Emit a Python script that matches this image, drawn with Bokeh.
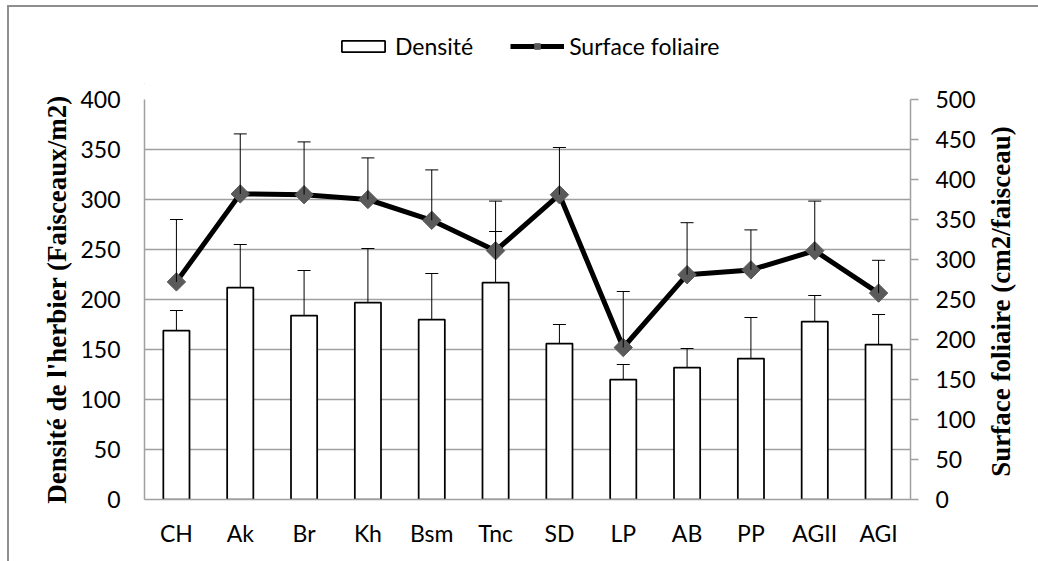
import math

from bokeh.embed import file_html
from bokeh.layouts import column, row
from bokeh.models import (ColumnDataSource, FactorRange, FixedTicker, Label,
                          Legend, LegendItem, LinearAxis, Range1d, TeeHead,
                          Whisker)
from bokeh.plotting import figure
from bokeh.resources import INLINE

# Sites
categories = ["CH", "Ak", "Br", "Kh", "Bsm", "Tnc", "SD", "LP", "AB", "PP", "AGII", "AGI"]

# Densité de l'herbier (faisceaux/m2) and its standard deviation
densite = [169, 212, 184, 197, 180, 217, 156, 120, 132, 141, 178, 155]
densite_err = [20, 43, 45, 54, 46, 51, 19, 15, 19, 41, 26, 30]

# Surface foliaire (cm2/faisceau) and its standard deviation
surface = [272, 382, 381, 375, 349, 311, 381, 190, 281, 287, 311, 258]
surface_err = [78, 75, 66, 52, 63, 62, 59, 70, 65, 50, 62, 41]

left_ticks = list(range(0, 401, 50))
right_ticks = list(range(0, 501, 50))

TICK_FONT = "Lato"
TITLE_FONT = "Liberation Serif"
GRID = "#a0a0a0"
MARKER = "#5a5a5a"

src = ColumnDataSource(dict(
    site=categories,
    dens=densite,
    dens_top=[d + e for d, e in zip(densite, densite_err)],
    surf=surface,
    surf_top=[s + e for s, e in zip(surface, surface_err)],
))

# ---------------------------------------------------------------- main chart
p = figure(
    x_range=FactorRange(*categories),
    y_range=Range1d(0, 400),
    width=975, height=477,
    min_border_left=135, min_border_right=74,
    min_border_top=15, min_border_bottom=62,
    output_backend="svg", toolbar_location=None,
)
p.extra_y_ranges = {"right": Range1d(0, 500)}
p.outline_line_color = None
p.background_fill_color = "white"
p.border_fill_color = "white"

# grid
p.xgrid.visible = False
p.ygrid.ticker = FixedTicker(ticks=left_ticks)
p.ygrid.grid_line_color = GRID
p.ygrid.grid_line_width = 1.5

# left axis
ly = p.yaxis[0]
ly.ticker = FixedTicker(ticks=left_ticks)
ly.axis_line_color = GRID
ly.axis_line_width = 1.5
ly.major_tick_out = 0
ly.major_tick_in = 0
ly.minor_tick_out = 0
ly.minor_tick_in = 0
ly.major_label_standoff = 24
ly.major_label_text_font = TICK_FONT
ly.major_label_text_font_size = "23px"
ly.major_label_text_color = "black"
ly.axis_label = "Densité de l'herbier (Faisceaux/m2)"
ly.axis_label_text_font = TITLE_FONT
ly.axis_label_text_font_style = "bold"
ly.axis_label_text_font_size = "27px"
ly.axis_label_text_color = "black"
ly.axis_label_standoff = 5

# bottom axis
bx = p.xaxis[0]
bx.axis_line_color = GRID
bx.axis_line_width = 1.5
bx.major_tick_out = 0
bx.major_tick_in = 0
bx.major_label_standoff = 19
bx.major_label_text_font = TICK_FONT
bx.major_label_text_font_size = "23px"
bx.major_label_text_color = "black"

# right axis (leaf surface scale)
ry = LinearAxis(y_range_name="right", ticker=FixedTicker(ticks=right_ticks))
ry.axis_line_color = GRID
ry.axis_line_width = 1.5
ry.major_tick_line_color = GRID
ry.major_tick_line_width = 1.5
ry.major_tick_out = 8
ry.major_tick_in = 0
ry.minor_tick_out = 0
ry.minor_tick_in = 0
ry.major_label_standoff = 17
ry.major_label_text_font = TICK_FONT
ry.major_label_text_font_size = "23px"
ry.major_label_text_color = "black"
p.add_layout(ry, "right")

# density bars with upper error bars
bar_style = dict(fill_color="white", line_color="black", line_width=1.75)
p.vbar(x="site", top="dens", bottom=0, width=0.41, source=src, **bar_style)
p.add_layout(Whisker(
    base="site", lower="dens", upper="dens_top", source=src,
    line_color="black", line_width=1,
    lower_head=None,
    upper_head=TeeHead(size=13, line_color="black", line_width=1),
    level="overlay",
))

# leaf surface line with upper error bars
line_style = dict(line_color="black", line_width=5)
mark_style = dict(marker="square", angle=math.pi / 4, size=13,
                  fill_color=MARKER, line_color=MARKER)
p.add_layout(Whisker(
    base="site", lower="surf", upper="surf_top", source=src,
    y_range_name="right",
    line_color="black", line_width=1,
    lower_head=None,
    upper_head=TeeHead(size=13, line_color="black", line_width=1),
    level="glyph",
))
p.line(x="site", y="surf", source=src, y_range_name="right",
       line_join="round", **line_style)
p.scatter(x="site", y="surf", source=src, y_range_name="right", **mark_style)

# ---------------------------------------------------------------- right title strip
tf = figure(
    width=54, height=477,
    x_range=Range1d(0, 1), y_range=Range1d(0, 400),
    min_border_left=0, min_border_right=0,
    min_border_top=15, min_border_bottom=62,
    x_axis_location=None, y_axis_location=None,
    output_backend="svg", toolbar_location=None,
)
tf.grid.visible = False
tf.outline_line_color = None
tf.background_fill_color = "white"
tf.border_fill_color = "white"
tf.add_layout(Label(
    x=0.306, y=198, text="Surface foliaire (cm2/faisceau)",
    angle=math.pi / 2, text_align="center", text_baseline="middle",
    text_font=TITLE_FONT, text_font_style="bold", text_font_size="27px",
    text_color="black",
))

# ---------------------------------------------------------------- legend strip
lf = figure(
    width=1029, height=77,
    x_range=Range1d(0, 1), y_range=Range1d(0, 1),
    min_border_left=135, min_border_right=0,
    min_border_top=0, min_border_bottom=0,
    x_axis_location=None, y_axis_location=None,
    output_backend="svg", toolbar_location=None,
)
lf.grid.visible = False
lf.outline_line_color = None
lf.background_fill_color = "white"
lf.border_fill_color = "white"

# swatch renderers sit outside the visible range; only their legend shows
key_bar = lf.vbar(x=[-5], top=[-5], bottom=-6, width=0.1, **bar_style)
key_line = lf.line(x=[-6, -5], y=[-5, -5], **line_style)
key_mark = lf.scatter(x=[-5], y=[-5], **mark_style)

legend = Legend(
    items=[
        LegendItem(label="Densité", renderers=[key_bar]),
        LegendItem(label="Surface foliaire", renderers=[key_line, key_mark]),
    ],
    orientation="horizontal",
    location=(192, 24),
    glyph_width=54, glyph_height=14,
    label_standoff=5, spacing=37,
    padding=0, margin=0,
    label_text_font=TICK_FONT, label_text_font_size="23px",
    label_text_color="black",
    border_line_color=None, background_fill_alpha=0,
)
lf.add_layout(legend)

# outer chart border (left and top edges)
page = column(
    lf, row(p, tf, spacing=0), spacing=0,
    styles={
        "margin-left": "7px",
        "margin-top": "5px",
        "border-left": "2px solid #8e8e8e",
        "border-top": "2px solid #8e8e8e",
    },
)

open("out.html", "w").write(file_html(page, INLINE))
